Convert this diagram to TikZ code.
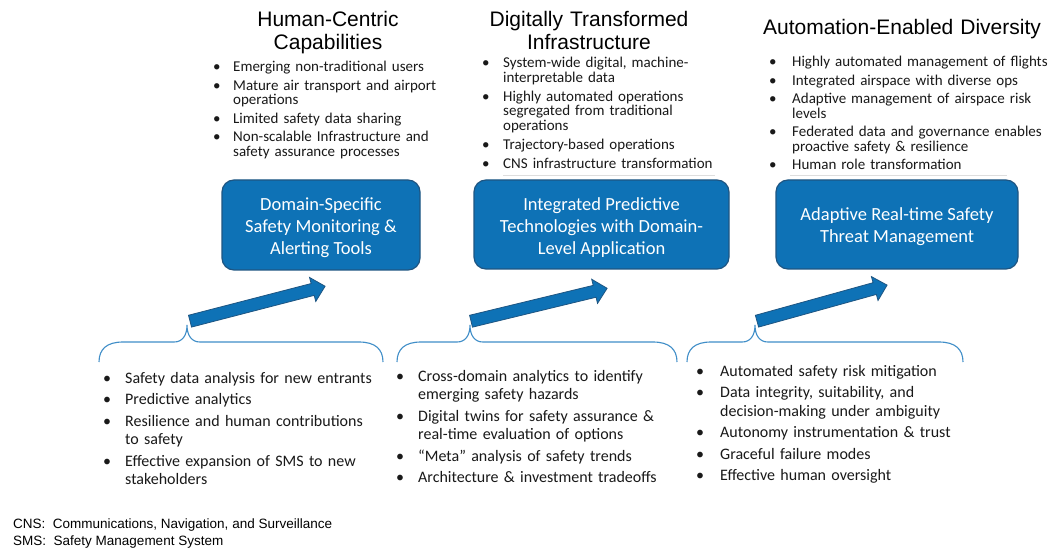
\documentclass[tikz,border=0pt]{standalone}
\usepackage{fontspec}
\setmainfont{Carlito}
\newfontfamily\arialf{Liberation Sans}
\usetikzlibrary{shapes.arrows,calc}
\definecolor{boxblue}{RGB}{14,114,182}
\definecolor{boxedge}{RGB}{30,85,130}
\definecolor{bracecol}{RGB}{64,142,200}
\definecolor{textcol}{RGB}{25,25,25}
\definecolor{shadowgray}{RGB}{222,222,222}
\newlength{\myhang}
\newcommand{\firstitm}[1]{\hangindent=\myhang\hangafter=1\noindent\makebox[\myhang][l]{\textbullet}#1}
\newcommand{\itm}[1]{\par\hangindent=\myhang\hangafter=1\noindent\makebox[\myhang][l]{\textbullet}#1}
\newcommand{\bracepath}[3]{%
  \draw[bracestyle] (#1,362) .. controls (#1,349) and ({#1+8},342) .. ({#1+24},342)
    -- ({#2-13},342) .. controls ({#2-5},342) and (#2,336) .. (#2,325)
    .. controls (#2,336) and ({#2+5},342) .. ({#2+13},342)
    -- ({#3-24},342) .. controls ({#3-8},342) and (#3,349) .. (#3,362);}
\tikzset{
  titletext/.style={anchor=base, align=center, inner sep=0pt, text=black, text width=320pt,
    font=\arialf\fontsize{21}{23}\selectfont},
  toplist/.style={anchor=base west, inner sep=0pt, text width=300pt, align=left,
    text=textcol, font=\fontsize{15}{14.5}\selectfont},
  botlist/.style={anchor=base west, inner sep=0pt, text width=320pt, align=left,
    text=textcol, font=\fontsize{16}{18.5}\selectfont},
  stage/.style={draw=boxedge, line width=1.2pt, fill=boxblue, rounded corners=12pt,
    inner sep=0pt},
  stagetext/.style={text=white, align=center, inner sep=0pt,
    font=\fontsize{18.5}{22}\selectfont},
  blockarrow/.style={single arrow, draw=boxedge, fill=boxblue, line width=0.8pt,
    inner xsep=0pt, inner ysep=5.7pt, text height=0pt, text depth=0pt,
    single arrow head extend=6.3pt, single arrow tip angle=88,
    single arrow head indent=0pt, anchor=center},
  bracestyle/.style={draw=bracecol, line width=1.1pt},
  foot/.style={anchor=base west, inner sep=0pt, text=black,
    font=\arialf\fontsize{13.5}{17}\selectfont}
}
\begin{document}
\begin{tikzpicture}[x=1pt,y=-1pt]
\useasboundingbox[fill=white] (0,0) rectangle (1058,548);

% titles
\node[titletext] (t1) at (328,27) {Human-Centric\\Capabilities};
\node[titletext] (t2) at (589,27) {Digitally Transformed\\Infrastructure};
\node[titletext] (t3) at (902,35) {Automation-Enabled Diversity};

% faint shadows under top text boxes
\draw[shadowgray, line width=1pt] (503,176) -- (715,176);
\draw[shadowgray, line width=1pt] (790,176) -- (1007,176);

% top lists
\node[toplist] (l1) at (213,72) {\setlength{\myhang}{20pt}\setlength{\parskip}{4pt}%
  \firstitm{Emerging non-traditional users}
  \itm{Mature air transport and airport\newline operations}
  \itm{Limited safety data sharing}
  \itm{Non-scalable Infrastructure and\newline safety assurance processes}\par};
\node[toplist] (l2) at (482,68) {\setlength{\myhang}{21pt}\setlength{\parskip}{4.5pt}%
  \firstitm{System-wide digital, machine-\newline interpretable data}
  \itm{Highly automated operations\newline segregated from traditional\newline operations}
  \itm{Trajectory-based operations}
  \itm{CNS infrastructure transformation}\par};
\node[toplist] (l3) at (769,67) {\setlength{\myhang}{23pt}\setlength{\parskip}{4pt}%
  \firstitm{Highly automated management of flights}
  \itm{Integrated airspace with diverse ops}
  \itm{Adaptive management of airspace risk\newline levels}
  \itm{Federated data and governance enables\newline proactive safety \& resilience}
  \itm{Human role transformation}\par};

% stage boxes
\node[stage, minimum width=198pt, minimum height=90pt] (b1) at (321,225) {};
\node[stage, minimum width=255pt, minimum height=89pt] (b2) at (601.5,224.5) {};
\node[stage, minimum width=242pt, minimum height=89pt] (b3) at (897,224.5) {};
\node[stagetext] (b1t) at ($(b1.center)+(0,3)$) {Domain-Specific\\Safety Monitoring \&\\Alerting Tools};
\node[stagetext] (b2t) at ($(b2.center)+(0,3)$) {Integrated Predictive\\Technologies with Domain-\\Level Application};
\node[stagetext] (b3t) at ($(b3.center)+(0,2)$) {Adaptive Real-time Safety\\Threat Management};

% block arrows
\coordinate (a1s) at (187,322); \coordinate (a1e) at (322,287);
\coordinate (a2s) at (468,322); \coordinate (a2e) at (604,289);
\coordinate (a3s) at (754,322); \coordinate (a3e) at (884,286);
\node[blockarrow, minimum height=139.5pt, rotate=14.5] (ar1) at ($(a1s)!0.5!(a1e)$) {};
\node[blockarrow, minimum height=140pt, rotate=13.6] (ar2) at ($(a2s)!0.5!(a2e)$) {};
\node[blockarrow, minimum height=135pt, rotate=15.5] (ar3) at ($(a3s)!0.5!(a3e)$) {};

% braces
\bracepath{99}{187}{383}
\bracepath{397}{470}{677}
\bracepath{687}{755}{963}

% bottom lists
\node[botlist] (m1) at (103,383) {\setlength{\myhang}{22pt}\setlength{\parskip}{3pt}%
  \firstitm{Safety data analysis for new entrants}
  \itm{Predictive analytics}
  \itm{Resilience and human contributions\newline to safety}
  \itm{Effective expansion of SMS to new\newline stakeholders}\par};
\node[botlist] (m2) at (396,381) {\setlength{\myhang}{22pt}\setlength{\parskip}{3pt}%
  \firstitm{Cross-domain analytics to identify\newline emerging safety hazards}
  \itm{Digital twins for safety assurance \&\newline real-time evaluation of options}
  \itm{“Meta” analysis of safety trends}
  \itm{Architecture \& investment tradeoffs}\par};
\node[botlist] (m3) at (696,376) {\setlength{\myhang}{24pt}\setlength{\parskip}{3pt}%
  \firstitm{Automated safety risk mitigation}
  \itm{Data integrity, suitability, and\newline decision-making under ambiguity}
  \itm{Autonomy instrumentation \& trust}
  \itm{Graceful failure modes}
  \itm{Effective human oversight}\par};

% footnotes
\node[foot] (f1) at (13,528.5) {CNS:\ \ Communications, Navigation, and Surveillance};
\node[foot] (f2) at (13,545.5) {SMS:\ \ Safety Management System};
\end{tikzpicture}
\end{document}
